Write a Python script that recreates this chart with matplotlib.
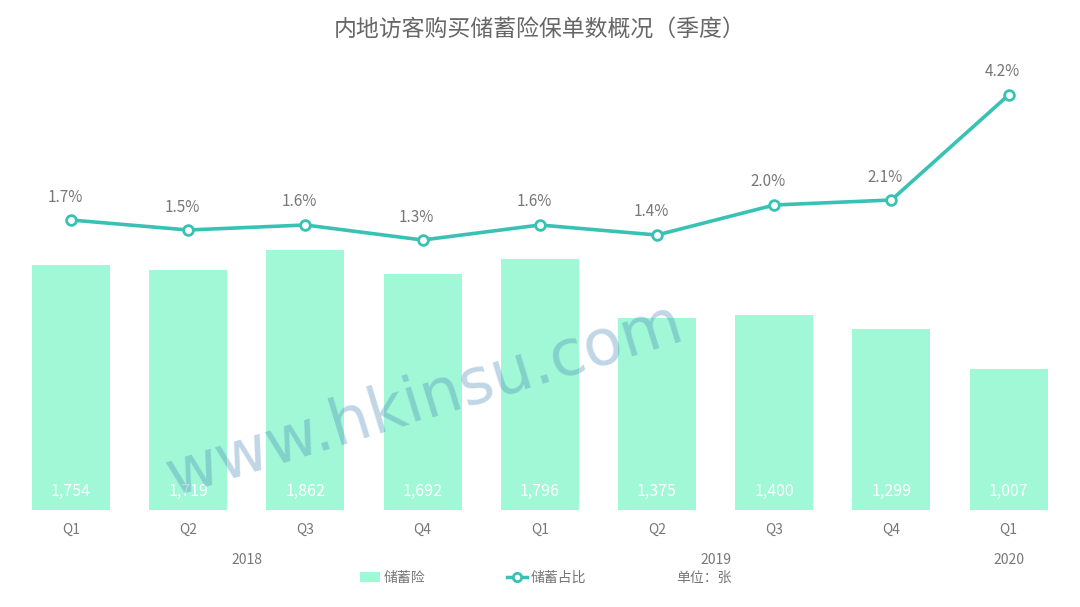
import matplotlib
matplotlib.use("Agg")
import matplotlib.pyplot as plt
from matplotlib.lines import Line2D
from matplotlib.patches import Patch

plt.rcParams["font.family"] = ["Noto Sans CJK SC", "DejaVu Sans"]

# 数据
quarters = ["Q1", "Q2", "Q3", "Q4", "Q1", "Q2", "Q3", "Q4", "Q1"]
years = ["2018", "2019", "2020"]
year_spans = [(0, 3), (4, 7), (8, 8)]
policies = [1754, 1719, 1862, 1692, 1796, 1375, 1400, 1299, 1007]
share_pct = [1.7, 1.5, 1.6, 1.3, 1.6, 1.4, 2.0, 2.1, 4.2]

BAR_COLOR = "#A0F8D6"
LINE_COLOR = "#38C2B4"
TEXT_GRAY = "#777777"

W, H = 1080, 607
fig = plt.figure(figsize=(W / 100, H / 100), dpi=100)

# 坐标轴区域（像素换算）
left, right, top, bottom = 12.4, 1067.2, 60, 510
ax = fig.add_axes([left / W, 1 - bottom / H, (right - left) / W, (bottom - top) / H])
x = list(range(len(quarters)))

ax.bar(x, policies, width=0.665, color=BAR_COLOR, zorder=1)
ax.set_xlim(-0.5, len(quarters) - 0.5)
ax.set_ylim(0, 3223)
ax.axis("off")

for xi, v in zip(x, policies):
    ax.text(xi, 130, f"{v:,}", ha="center", va="center", color="white",
            fontsize=11.5, zorder=5)

ax2 = ax.twinx()
ax2.plot(x, share_pct, color=LINE_COLOR, linewidth=2.6, marker="o",
         markersize=7, markerfacecolor="white", markeredgecolor=LINE_COLOR,
         markeredgewidth=2, zorder=3)
ax2.set_ylim(-4.1, 4.9)
ax2.axis("off")
for xi, v in zip(x, share_pct):
    ax2.text(xi - 0.05, v + 0.46, f"{v:.1f}%", ha="center", va="center",
             color=TEXT_GRAY, fontsize=11)

# 季度与年份标签
for xi, q in zip(x, quarters):
    ax.text(xi, -0.045, q, transform=ax.get_xaxis_transform(), ha="center",
            va="center", color=TEXT_GRAY, fontsize=10)
for yr, (a, b) in zip(years, year_spans):
    ax.text((a + b) / 2, -0.111, yr, transform=ax.get_xaxis_transform(),
            ha="center", va="center", color=TEXT_GRAY, fontsize=10)

# 标题
fig.text(0.5, 1 - 29 / H, "内地访客购买储蓄险保单数概况（季度）", ha="center",
         va="center", color="#666666", fontsize=16.5)

# 图例
handles = [Patch(facecolor=BAR_COLOR, edgecolor="none"),
           Line2D([0], [0], color=LINE_COLOR, linewidth=2.5, marker="o",
                  markersize=6, markerfacecolor="white",
                  markeredgecolor=LINE_COLOR, markeredgewidth=2)]
fig.legend(handles, ["储蓄险", "储蓄占比"], loc="center",
           bbox_to_anchor=(473 / W, 1 - 578 / H), ncol=2, frameon=False,
           fontsize=10, labelcolor=TEXT_GRAY, handlelength=1.45,
           handletextpad=0.25, columnspacing=5.9)
fig.text(676 / W, 1 - 578 / H, "单位：张", ha="left", va="center",
         color=TEXT_GRAY, fontsize=10)

# 水印
fig.text(425 / W, 1 - 400 / H, "www.hkinsu.com", ha="center", va="center",
         rotation=17, fontsize=46, color="#4a8ab8", alpha=0.35,
         family="DejaVu Sans", zorder=10)

fig.savefig("out.png", dpi=100)
